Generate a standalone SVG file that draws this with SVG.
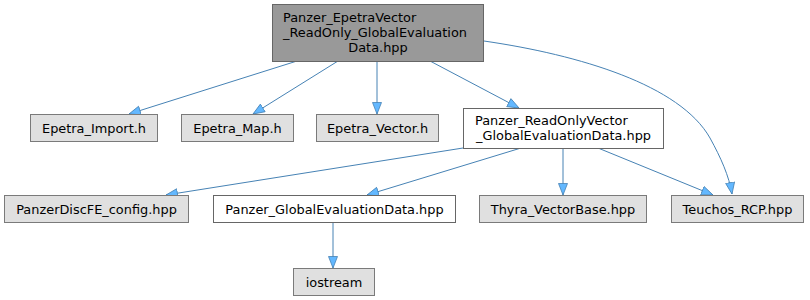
<svg xmlns="http://www.w3.org/2000/svg" width="810" height="300" viewBox="0 0 810 300">
  <defs>
    <marker id="arrow" markerUnits="userSpaceOnUse" markerWidth="14" markerHeight="12" refX="12" refY="5" orient="auto">
      <path d="M0.5,0.5 L12,5 L0.5,9.5 Z" fill="#63b8ff" stroke="#4682b4" stroke-width="0.8"/>
    </marker>
    <style>
      .node rect { stroke-width: 1; }
      .current rect { fill: #999999; stroke: #666666; }
      .ext rect { fill: #e0e0e0; stroke: #7a7a7a; }
      .doc rect { fill: #ffffff; stroke: #666666; }
      .node text { font-family: "DejaVu Sans", sans-serif; font-size: 12.9px; fill: #000000; }
      .edges path { fill: none; stroke: #4682b4; stroke-width: 1; marker-end: url(#arrow); }
    </style>
  </defs>

  <rect width="810" height="300" fill="#ffffff"/>

  <g class="edges" id="edges">
    <path d="M297,61 L129,114"/>
    <path d="M338,61 L253,114"/>
    <path d="M377,61 L377,114"/>
    <path d="M430,61 L519,108"/>
    <path d="M484,41 C580,55 680,85 710,138 C721,158 729,176 732,194"/>
    <path d="M463,148 L166,195"/>
    <path d="M521,148 L367,195"/>
    <path d="M563,148 L563,195"/>
    <path d="M598,148 L713,195"/>
    <path d="M333,222 L333,268"/>
  </g>

  <g id="node_main" class="node current">
    <rect x="272.5" y="4.5" width="211" height="57"/>
    <text x="283" y="21.5">Panzer_EpetraVector</text>
    <text x="283" y="36.5">_ReadOnly_GlobalEvaluation</text>
    <text x="378" y="51.5" text-anchor="middle">Data.hpp</text>
  </g>

  <g id="node_epetra_import" class="node ext">
    <rect x="30.5" y="114.5" width="127" height="27"/>
    <text x="94" y="132.5" text-anchor="middle">Epetra_Import.h</text>
  </g>

  <g id="node_epetra_map" class="node ext">
    <rect x="181.5" y="114.5" width="112" height="27"/>
    <text x="237.5" y="132.5" text-anchor="middle">Epetra_Map.h</text>
  </g>

  <g id="node_epetra_vector" class="node ext">
    <rect x="316.5" y="114.5" width="122" height="27"/>
    <text x="377.5" y="132.5" text-anchor="middle">Epetra_Vector.h</text>
  </g>

  <g id="node_readonly_vector" class="node doc">
    <rect x="463.5" y="108.5" width="200" height="40"/>
    <text x="475" y="124.5">Panzer_ReadOnlyVector</text>
    <text x="563.5" y="139.5" text-anchor="middle">_GlobalEvaluationData.hpp</text>
  </g>

  <g id="node_discfe_config" class="node ext">
    <rect x="4.5" y="195.5" width="184" height="27"/>
    <text x="96.5" y="213.5" text-anchor="middle">PanzerDiscFE_config.hpp</text>
  </g>

  <g id="node_global_eval_data" class="node doc">
    <rect x="213.5" y="195.5" width="242" height="27"/>
    <text x="334.5" y="213.5" text-anchor="middle">Panzer_GlobalEvaluationData.hpp</text>
  </g>

  <g id="node_thyra_vectorbase" class="node ext">
    <rect x="479.5" y="195.5" width="167" height="27"/>
    <text x="563" y="213.5" text-anchor="middle">Thyra_VectorBase.hpp</text>
  </g>

  <g id="node_teuchos_rcp" class="node ext">
    <rect x="671.5" y="195.5" width="132" height="27"/>
    <text x="737.5" y="213.5" text-anchor="middle">Teuchos_RCP.hpp</text>
  </g>

  <g id="node_iostream" class="node ext">
    <rect x="293.5" y="268.5" width="81" height="27"/>
    <text x="334" y="286.5" text-anchor="middle">iostream</text>
  </g>
</svg>
